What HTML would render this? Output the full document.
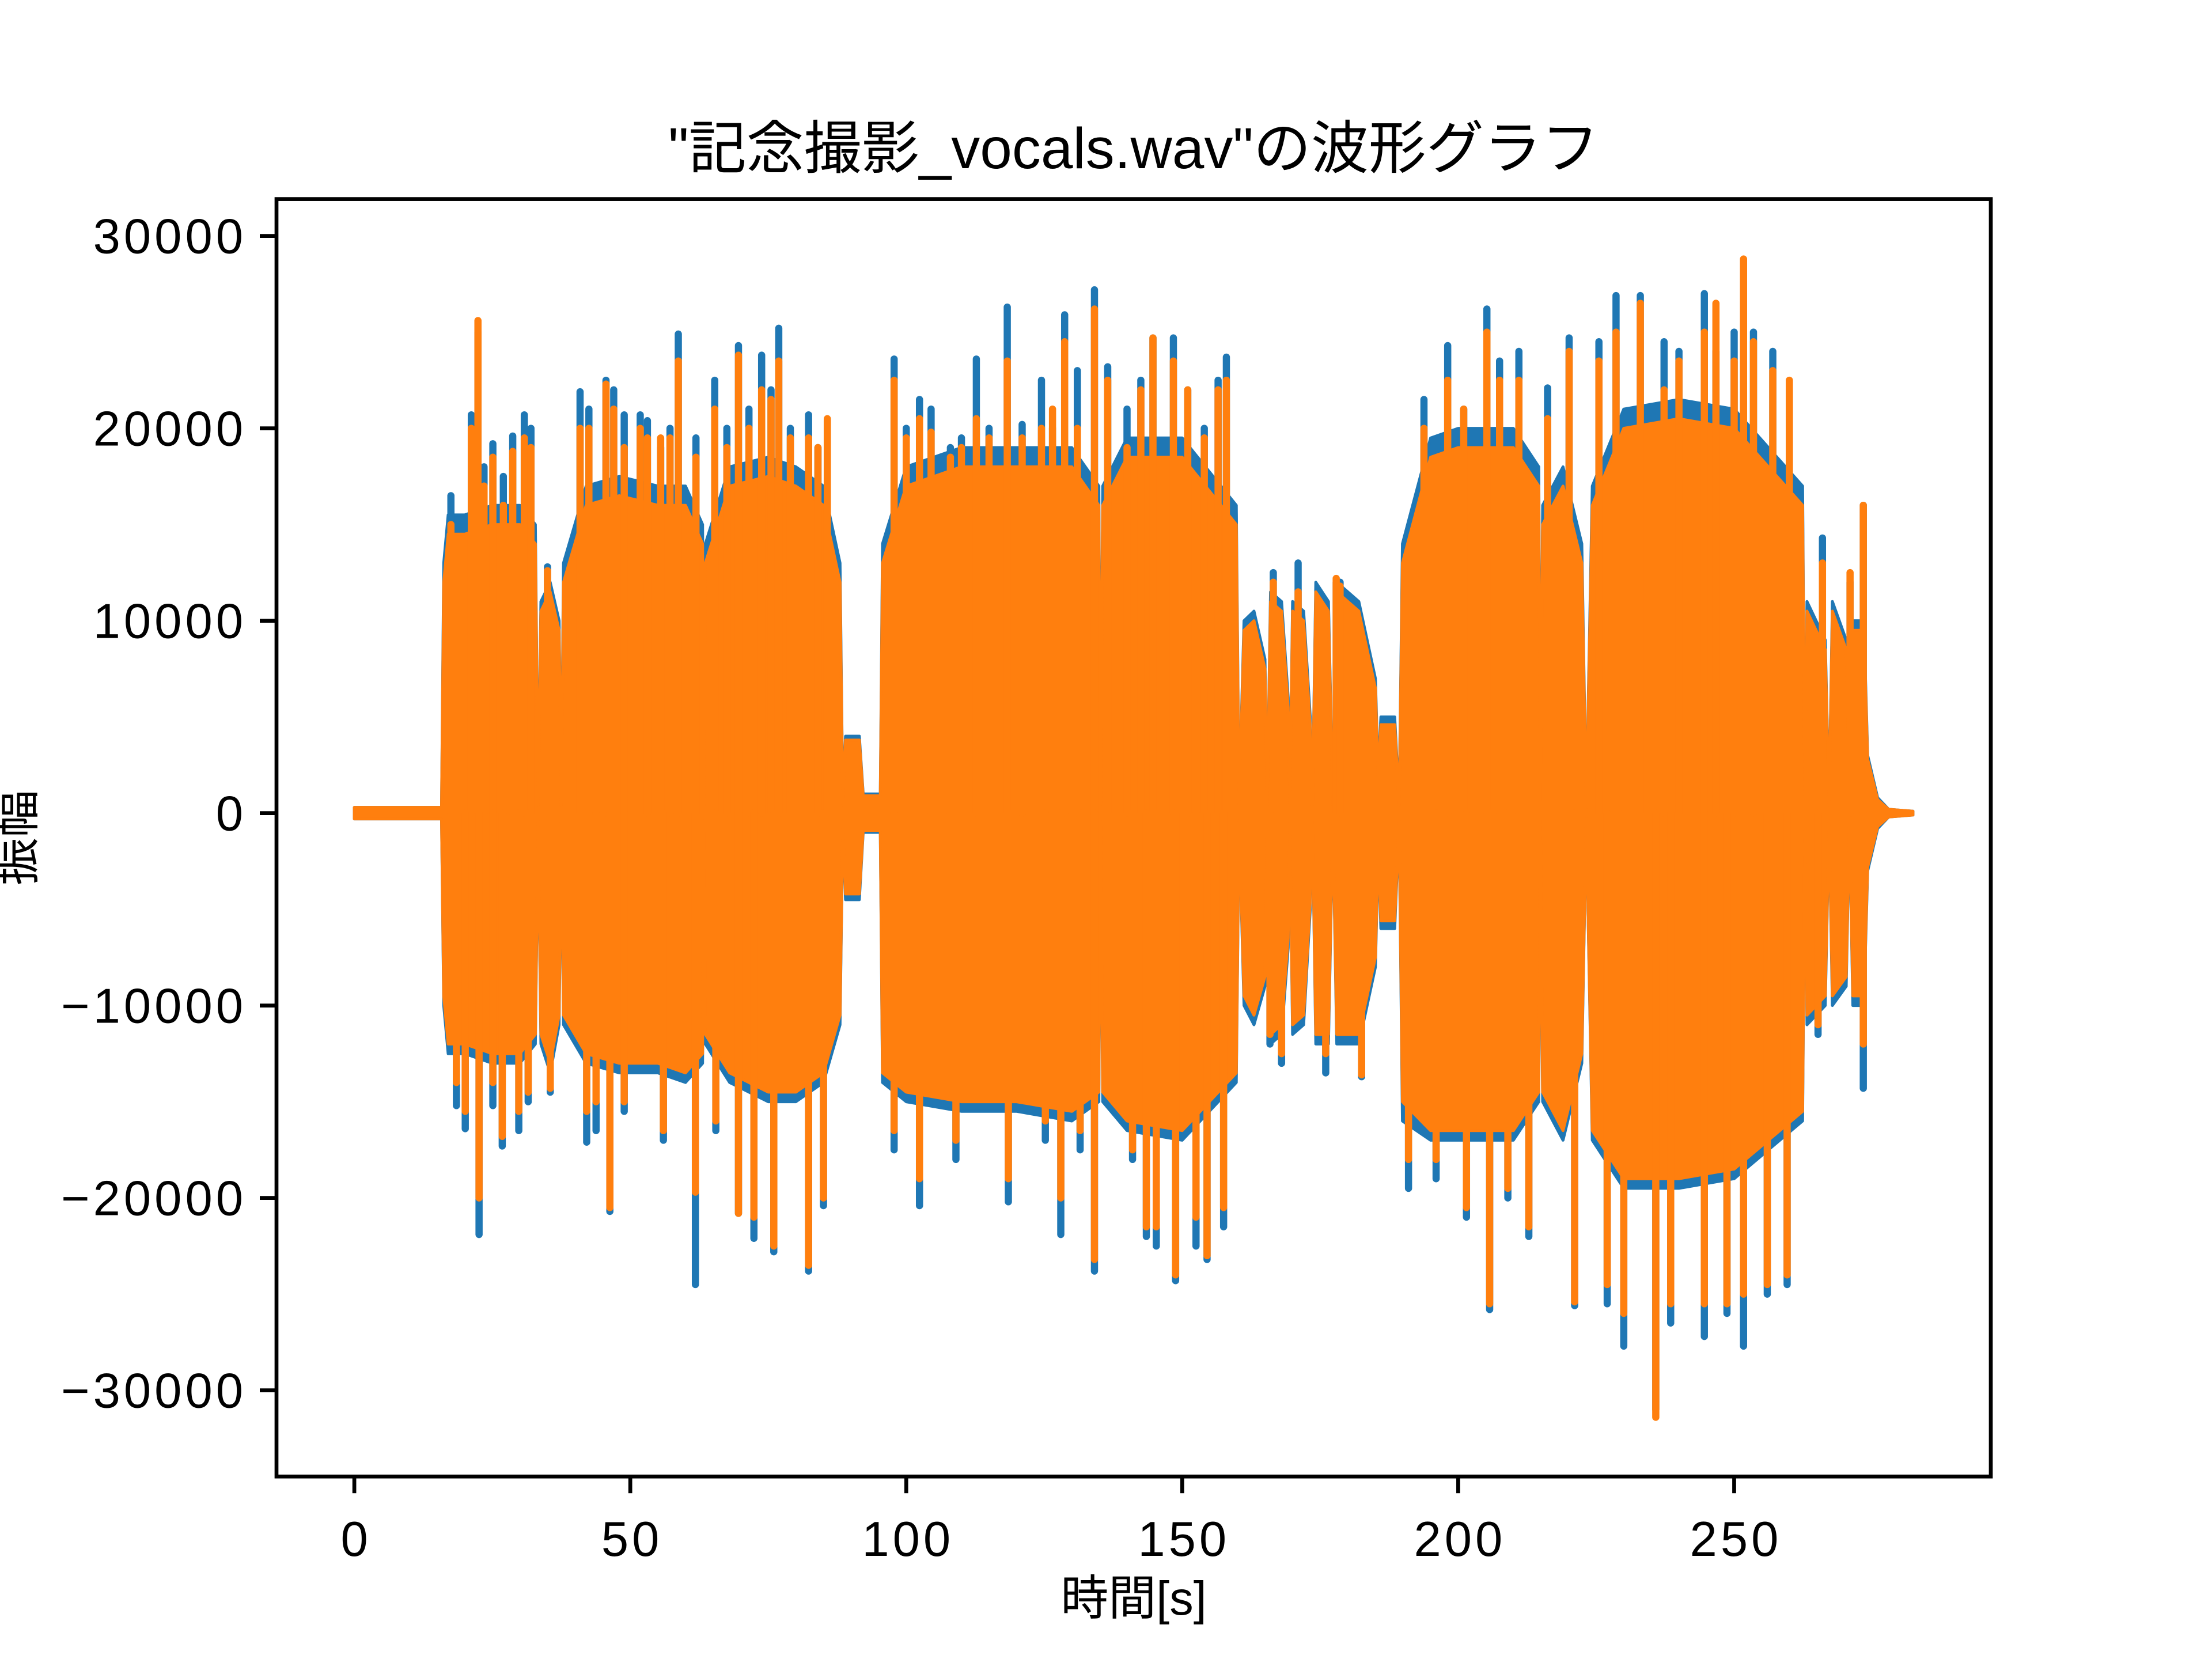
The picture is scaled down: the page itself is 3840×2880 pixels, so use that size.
<!DOCTYPE html>
<html><head><meta charset="utf-8"><style>
html,body{margin:0;padding:0;background:#fff;}
svg{display:block;font-family:"Liberation Sans","Noto Sans CJK JP",sans-serif;}
</style></head><body>
<svg id="chart" xmlns="http://www.w3.org/2000/svg" width="3840" height="2880" viewBox="0 0 3840 2880">
<rect x="0" y="0" width="3840" height="2880" fill="#fff"/>
<g id="plot"></g>
<rect x="480" y="345.6" width="2976" height="2217.6" fill="none" stroke="#000" stroke-width="6.7"/>
<g id="axes"></g>
<text x="1968" y="292" text-anchor="middle" font-size="100">"記念撮影_vocals.wav"の波形グラフ</text>
<text x="1968" y="2803" text-anchor="middle" font-size="83">時間[s]</text>
<text x="0" y="0" transform="translate(58,1454) rotate(-90)" text-anchor="middle" font-size="83">振幅</text>
</svg>
<script>
// envelope breakpoints (time s), amplitude in thousands
const envT   = [0,15.8,16.2,17,20,25,30,32.8,33.3,33.8,35.5,37.1,37.5,37.9,42,48,55,60,63.1,63.3,63.6,68,75,80,85,88.0,88.5,89,91.5,92.2,95.3,95.7,100,110,120,130,134.9,135.2,135.6,140,150,159.8,160.3,161.2,163,165,165.4,166,168,169.2,169.5,170,172,173.2,173.6,174.2,176.5,177.3,178,182,185,185.5,186,188.5,189.3,189.9,195,200,210,214.6,214.9,215.3,219,222.4,223.2,224.3,230,240,250,262.4,262.8,263.2,266.5,267.2,267.8,270.3,270.9,271.5,273.5,274.2,276,278,282.4];
const blueMax= [0.3,0.3,13,15.5,15.5,16,16,15,0.5,11,12,10,0.5,13,17,17.5,17,17,15,0.5,14,18,18.5,18,17,13,0.5,4,4,1,1,14,18,19,19,19,17,0.5,17,19.5,19.5,16,0.5,10,10.5,8,0.5,11.5,11,6,0.5,11,10.5,5,0.5,12,11,0.5,12,11,7,2,5,5,0.5,14,19.5,20,20,18,0.5,16,18,14,0.3,17,21,21.5,21,17,1,11,9,0.5,11,9,0.5,10,10,3,0.8,0.2,0.1];
const blueMin= [-0.3,-0.3,-10,-12.5,-12.5,-13,-13,-12,-0.5,-12,-13.5,-11,-0.5,-11,-13,-13.5,-13.5,-14,-13,-0.5,-12,-14,-15,-15,-14,-11,-0.5,-4.5,-4.5,-1,-1,-14,-15,-15.5,-15.5,-16,-15,-0.5,-15,-16.5,-17,-14,-0.5,-10,-11,-9,-0.5,-12,-11.5,-7,-0.5,-11.5,-11,-5,-0.5,-12,-12,-0.5,-12,-12,-8,-2,-6,-6,-0.5,-16,-17,-17,-17,-15,-0.5,-15,-17,-13,-0.3,-17,-19.5,-19.5,-19,-16,-1,-11,-10,-0.5,-10,-9,-0.5,-10,-10,-3,-0.8,-0.2,-0.1];
const orangeMax=[0.3,0.3,12,14.5,14.5,15,15,14,0.4,10.5,11.5,9.5,0.4,12,16,16.5,16,16,14,0.4,13,17,17.5,17,16,12,0.4,3.8,3.8,0.9,0.9,13,17,18,18,18,16,0.4,16,18.5,18.5,15,0.4,9.5,10,7.5,0.4,11,10.5,5.5,0.4,10.5,10,4.5,0.4,11.5,10.5,0.4,11.5,10.5,6.5,1.8,4.6,4.6,0.4,13,18.5,19,19,17,0.4,15,17,13,0.3,16,20,20.5,20,16,0.9,10.5,8.5,0.4,10.5,8.5,0.4,9.5,9.5,2.8,0.7,0.2,0.1];
const orangeMin=[-0.3,-0.3,-9.5,-12,-12,-12.5,-12.5,-11.5,-0.4,-11.5,-13,-10.5,-0.4,-10.5,-12.5,-13,-13,-13.5,-12.5,-0.4,-11.5,-13.5,-14.5,-14.5,-13.5,-10.5,-0.4,-4.2,-4.2,-0.9,-0.9,-13.5,-14.5,-15,-15,-15.5,-14.5,-0.4,-14.5,-16,-16.5,-13.5,-0.4,-9.5,-10.5,-8.5,-0.4,-11.5,-11,-6.5,-0.4,-11,-10.5,-4.6,-0.4,-11.5,-11.5,-0.4,-11.5,-11.5,-7.5,-1.8,-5.6,-5.6,-0.4,-15,-16.5,-16.5,-16.5,-14.5,-0.4,-14.5,-16.5,-12.5,-0.3,-16.5,-19,-19,-18.5,-15.5,-0.9,-10.5,-9.5,-0.4,-9.5,-8.5,-0.4,-9.5,-9.5,-2.8,-0.7,-0.2,-0.1];
// individual peaks (time s), amplitude in thousands
const spikeT      = [17.5,21.2,22.4,23.5,25.1,27,28.7,30.8,32,35,40.9,42.5,45.6,47,48.9,51.8,53.1,55.5,57.2,58.7,61.9,65.3,67.5,69.6,71.5,73.8,75.5,76.9,79,82.3,84,85.7,97.8,100,102.4,104.5,108,110,112.7,115,118.3,121,124.5,126.5,128.7,131,134.1,136.5,140,142.5,144.7,148.4,151,154,156.5,158,166.5,171,177.9,178.6,193.8,198.1,201,205.2,207.5,211,216.2,220.1,225.5,228.6,233,237.3,240,244.6,246.7,250,251.7,253.5,257,260,266.0,271.0,273.4,
                     18.5,20.1,22.6,25.1,26.8,29.8,31.5,35.5,42.1,43.8,46.3,48.9,56,61.8,65.5,69.6,72.4,76,82.3,85,97.8,102.4,109,118.5,125.2,128,131.5,134.1,141,143.5,145.3,148.8,152.5,154.5,157.5,168,176,182.5,165.9,191,196,205.7,201.5,209,212.8,221.1,227,230,235.8,238.5,244.6,248.7,251.7,256,259.6,265.2,273.4];
const spikeBlue   = [16.5,20.7,25.0,18,19.2,17.5,19.6,20.7,20,12.8,21.9,21,22.5,22,20.7,20.7,20.4,19,20,24.9,19.5,22.5,20,24.3,21,23.8,22,25.2,20,20.7,19,20.4,23.6,20,21.5,21,19,19.5,23.6,20,26.3,20.2,22.5,20,25.9,23,27.2,23.2,21,22.5,24.7,24.7,22,20,22.5,23.7,12.5,13,12,12,21.5,24.3,21,26.2,23.5,24,22.1,24.7,24.5,26.9,26.9,24.5,24,27.0,24,25,22,25,24,22,14.3,12,16,
                     -15.2,-16.4,-21.9,-15.2,-17.3,-16.5,-15,-14.5,-17.1,-16.5,-20.7,-15.5,-17,-24.5,-16.5,-20.8,-22.1,-22.8,-23.8,-20.4,-17.5,-20.4,-18,-20.2,-17,-21.9,-17.5,-23.8,-18,-22,-22.5,-24.3,-22.5,-23.2,-21.5,-13,-13.5,-13.7,-12,-19.5,-19,-25.8,-21,-20,-22,-25.6,-25.5,-27.7,-31.0,-26.5,-27.2,-26,-27.7,-25,-24.5,-11.5,-14.3];
const spikeOrange = [15,20,25.6,17,18.5,16,18.8,19.5,19,12.6,20,20,22.3,21,19,20,19.5,19.5,19.5,23.5,18.5,21,19,23.8,20,22,21.5,23.5,19.5,19.5,19,20.5,22.5,19.5,20.5,19.8,18.5,19,20.5,19.5,23.5,19.5,20,21,24.5,20,26.2,22.5,19,22,24.7,23.5,22,19.5,22,22.5,12,11.5,12.2,11.8,20,22.5,21,25,22.5,22.5,20.5,24,23.5,25,26.5,22,23.5,25,26.5,23.5,28.8,24.5,23,22.5,13,12.5,16,
                     -14,-15.5,-20,-14,-16.8,-15.5,-14.5,-14.3,-15.5,-15,-20.5,-15,-16.5,-19.7,-16,-20.8,-21,-22.5,-23.5,-20,-16.5,-19,-17,-19,-16,-20,-16.5,-23.2,-17.5,-21.5,-21.5,-24,-21,-23,-20.5,-12.5,-12.5,-13.6,-11.5,-18,-18,-25.5,-20.5,-19.5,-21.5,-25.4,-24.5,-26,-31.4,-25.5,-25.5,-25.5,-25,-24.5,-24,-11,-12];
const xTicks = [0,50,100,150,200,250];
const yTicks = [-30000,-20000,-10000,0,10000,20000,30000];
const yTickLabels = ["\u221230000","\u221220000","\u221210000","0","10000","20000","30000"];

const AX={l:480,r:3456,t:345.6,b:2563.2}, XMIN=-14.1, XMAX=296.5, YMIN=-34479, YMAX=31916;
function X(t){return AX.l+(t-XMIN)/(XMAX-XMIN)*(AX.r-AX.l);}
function Y(v){return AX.b-(v-YMIN)/(YMAX-YMIN)*(AX.b-AX.t);}
const NS='http://www.w3.org/2000/svg';
const plot=document.getElementById('plot'), axes=document.getElementById('axes');
function env(tArr,maxArr,minArr,color,name){
  let pts=[];
  for(let i=0;i<tArr.length;i++)pts.push(X(tArr[i]).toFixed(1)+','+Y(maxArr[i]*1000).toFixed(1));
  for(let i=tArr.length-1;i>=0;i--)pts.push(X(tArr[i]).toFixed(1)+','+Y(minArr[i]*1000).toFixed(1));
  const p=document.createElementNS(NS,'polygon');
  p.setAttribute('points',pts.join(' '));
  p.setAttribute('fill',color);p.setAttribute('stroke',color);p.setAttribute('stroke-width','5');p.setAttribute('stroke-linejoin','round');
  
  
  plot.appendChild(p);
}
function spikes(vals,color,name){
  const g=document.createElementNS(NS,'g');
  
  
  for(let i=0;i<spikeT.length;i++){
    const l=document.createElementNS(NS,'line');
    const x=X(spikeT[i]);
    l.setAttribute('x1',x);l.setAttribute('x2',x);
    l.setAttribute('y1',Y(0));l.setAttribute('y2',Y(vals[i]*1000));
    l.setAttribute('stroke',color);l.setAttribute('stroke-width','12.5');l.setAttribute('stroke-linecap','round');
    
    
    g.appendChild(l);
  }
  plot.appendChild(g);
}
env(envT,blueMax,blueMin,'#1f77b4','channel-left-envelope');
spikes(spikeBlue,'#1f77b4','channel-left-peaks');
env(envT,orangeMax,orangeMin,'#ff7f0e','channel-right-envelope');
spikes(spikeOrange,'#ff7f0e','channel-right-peaks');

xTicks.forEach(function(t){
  const x=X(t);
  const l=document.createElementNS(NS,'line');
  l.setAttribute('x1',x);l.setAttribute('x2',x);l.setAttribute('y1',AX.b);l.setAttribute('y2',AX.b+29);
  l.setAttribute('stroke','#000');l.setAttribute('stroke-width','6.7');
  
  
  axes.appendChild(l);
  const tx=document.createElementNS(NS,'text');
  tx.setAttribute('x',x+3);tx.setAttribute('y',AX.b+138);tx.setAttribute('text-anchor','middle');tx.setAttribute('font-size','85');
  tx.setAttribute('letter-spacing','6');
  tx.textContent=String(t);
  
  
  axes.appendChild(tx);
});
yTicks.forEach(function(v,i){
  const y=Y(v);
  const l=document.createElementNS(NS,'line');
  l.setAttribute('x1',AX.l-29);l.setAttribute('x2',AX.l);l.setAttribute('y1',y);l.setAttribute('y2',y);
  l.setAttribute('stroke','#000');l.setAttribute('stroke-width','6.7');
  
  
  axes.appendChild(l);
  const tx=document.createElementNS(NS,'text');
  tx.setAttribute('x',AX.l-52);tx.setAttribute('y',y+30);tx.setAttribute('text-anchor','end');tx.setAttribute('font-size','85');
  tx.setAttribute('letter-spacing','6');
  tx.textContent=yTickLabels[i];
  
  
  axes.appendChild(tx);
});
</script>
</body></html>
